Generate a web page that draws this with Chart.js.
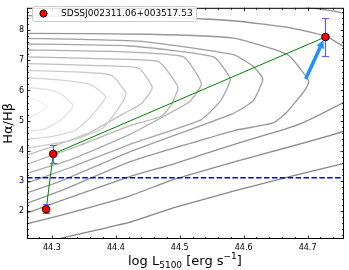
<!DOCTYPE html>
<html>
<head>
<meta charset="utf-8">
<script src="https://cdn.jsdelivr.net/npm/chart.js@4.4.0/dist/chart.umd.min.js"></script>
<style>
  html, body { margin: 0; padding: 0; background: #fff; }
</style>
</head>
<body>
<canvas id="chart" width="349" height="270"></canvas>
<script>
// object measurements (three epochs)
const logL = [44.291, 44.302, 44.728];
const balmerDec = [2.05, 3.89, 7.78];
const errLow = [1.91, 3.59, 7.16];
const errHigh = [2.22, 4.18, 8.40];
const objName = "SDSSJ002311.06+003517.53";
const caseB = 3.1;
const arrowFrom = [44.697, 6.38];
const arrowTo = [44.725, 7.68];

const xTicks = [44.3, 44.4, 44.5, 44.6, 44.7];
const yTicks = [2, 3, 4, 5, 6, 7, 8];
const xRange = [44.261, 44.757];
const yRange = [1.06, 8.75];

// density contours of the comparison sample, innermost first
const contour1 = [[44.250, 5.79], [44.274, 5.70], [44.292, 5.47], [44.278, 5.24], [44.250, 4.95]];
const contour2 = [[44.250, 6.12], [44.297, 6.02], [44.316, 5.86], [44.333, 5.50], [44.316, 5.05], [44.289, 4.72], [44.250, 4.63]];
const contour3 = [[44.250, 6.44], [44.312, 6.35], [44.362, 6.18], [44.384, 5.79], [44.362, 5.15], [44.336, 4.66], [44.297, 4.46], [44.250, 4.37]];
const contour4 = [[44.250, 6.67], [44.343, 6.61], [44.393, 6.51], [44.416, 5.89], [44.402, 5.34], [44.378, 4.72], [44.328, 4.33], [44.250, 4.04]];
const contour5 = [[44.250, 6.90], [44.374, 6.83], [44.436, 6.74], [44.457, 6.09], [44.440, 5.57], [44.413, 5.24], [44.359, 4.60], [44.297, 4.11], [44.250, 3.78]];
const contour6 = [[44.250, 7.12], [44.374, 7.06], [44.467, 6.96], [44.497, 6.12], [44.488, 5.57], [44.472, 5.15], [44.421, 4.82], [44.343, 4.17], [44.250, 3.46]];
const contour7 = [[44.250, 7.35], [44.405, 7.29], [44.506, 7.12], [44.534, 6.22], [44.517, 5.66], [44.506, 5.50], [44.421, 4.53], [44.328, 3.69], [44.250, 3.17]];
const contour8 = [[44.250, 7.55], [44.421, 7.48], [44.553, 7.12], [44.579, 6.38], [44.564, 5.66], [44.533, 5.02], [44.421, 4.20], [44.328, 3.43], [44.250, 2.84]];
const contour9 = [[44.250, 7.74], [44.436, 7.64], [44.584, 7.19], [44.615, 6.80], [44.630, 6.38], [44.615, 5.66], [44.584, 5.24], [44.421, 3.95], [44.312, 2.97], [44.250, 2.52]];
const contour10 = [[44.250, 7.90], [44.452, 7.87], [44.584, 7.74], [44.669, 7.19], [44.702, 6.31], [44.695, 5.99], [44.666, 5.24], [44.646, 4.92], [44.584, 4.66], [44.421, 3.62], [44.312, 2.65], [44.250, 2.16]];
const contour11 = [[44.250, 8.49], [44.491, 8.42], [44.584, 8.32], [44.669, 8.10], [44.728, 7.81], [44.759, 7.42], [44.809, 6.54], [44.809, 6.22], [44.759, 5.63], [44.692, 4.92], [44.661, 4.69], [44.584, 4.20], [44.491, 3.56], [44.421, 3.13], [44.312, 2.32], [44.250, 1.84]];
const contour12 = [[44.250, 8.97], [44.529, 8.88], [44.692, 8.78], [44.759, 8.55], [44.840, 7.51], [44.840, 5.57], [44.759, 4.66], [44.584, 3.62], [44.491, 3.04], [44.421, 2.49], [44.312, 1.84], [44.250, 1.51]];
const contour13 = [[44.840, 3.95], [44.754, 3.56], [44.666, 3.10], [44.584, 2.65], [44.491, 2.10], [44.421, 1.61], [44.309, 1.06], [44.250, 0.77]];

const contours = [contour1, contour2, contour3, contour4, contour5, contour6, contour7,
                  contour8, contour9, contour10, contour11, contour12, contour13];
const contourGreys = ['#ececec', '#e2e2e2', '#d6d6d6', '#cbcbcb', '#c0c0c0', '#b6b6b6', '#adadad',
                      '#a5a5a5', '#9e9e9e', '#979797', '#919191', '#8c8c8c', '#878787'];

const FONT = "'DejaVu Sans', sans-serif";

const datasets = [
  {
    label: objName,
    data: logL.map((x, i) => ({x: x, y: balmerDec[i]})),
    showLine: false,
    pointRadius: 3.8,
    pointBackgroundColor: '#ff0000',
    pointBorderColor: '#220000',
    pointBorderWidth: 1,
    order: 0,
    clip: false
  },
  {
    label: 'track',
    data: logL.map((x, i) => ({x: x, y: balmerDec[i]})),
    showLine: true,
    borderColor: '#008000',
    borderWidth: 1,
    pointRadius: 0,
    order: 1
  },
  {
    label: 'caseB',
    data: [{x: xRange[0], y: caseB}, {x: xRange[1], y: caseB}],
    showLine: true,
    borderColor: '#0000ff',
    borderWidth: 1.5,
    borderDash: [5.5, 2.4],
    pointRadius: 0,
    order: 2
  }
];
contours.forEach((c, i) => {
  datasets.push({
    label: 'c' + (i + 1),
    data: c.map(p => ({x: p[0], y: p[1]})),
    showLine: true,
    borderColor: contourGreys[i],
    borderWidth: 1.3,
    tension: 0.15,
    pointRadius: 0,
    order: 3 + i
  });
});

function tickMarks(ctx, chart) {
  const a = chart.chartArea;
  const xs = chart.scales.x, ys = chart.scales.y;
  ctx.save();
  ctx.strokeStyle = '#000';
  ctx.lineWidth = 0.8;
  ctx.beginPath();
  const xMinor = [];
  for (let v = Math.ceil(xRange[0] / 0.02) * 0.02; v <= xRange[1]; v += 0.02) xMinor.push(v);
  const yMinor = [];
  for (let v = Math.ceil(yRange[0] / 0.2) * 0.2; v <= yRange[1]; v += 0.2) yMinor.push(v);
  xMinor.forEach(v => {
    const px = Math.round(xs.getPixelForValue(v)) + 0.5;
    ctx.moveTo(px, a.bottom); ctx.lineTo(px, a.bottom - 2);
    ctx.moveTo(px, a.top); ctx.lineTo(px, a.top + 2);
  });
  xTicks.forEach(v => {
    const px = Math.round(xs.getPixelForValue(v)) + 0.5;
    ctx.moveTo(px, a.bottom); ctx.lineTo(px, a.bottom - 3.5);
    ctx.moveTo(px, a.top); ctx.lineTo(px, a.top + 3.5);
  });
  yMinor.forEach(v => {
    const py = Math.round(ys.getPixelForValue(v)) + 0.5;
    ctx.moveTo(a.left, py); ctx.lineTo(a.left + 2, py);
    ctx.moveTo(a.right, py); ctx.lineTo(a.right - 2, py);
  });
  yTicks.forEach(v => {
    const py = Math.round(ys.getPixelForValue(v)) + 0.5;
    ctx.moveTo(a.left, py); ctx.lineTo(a.left + 3.5, py);
    ctx.moveTo(a.right, py); ctx.lineTo(a.right - 3.5, py);
  });
  ctx.stroke();
  ctx.lineWidth = 1;
  ctx.strokeRect(a.left + 0.5, a.top + 0.5, a.right - a.left - 1, a.bottom - a.top - 1);
  ctx.restore();
}

const extras = {
  id: 'extras',
  beforeDatasetDraw(chart, args) {
    if (args.index !== 0) return;
    const ctx = chart.ctx;
    const xs = chart.scales.x, ys = chart.scales.y;
    ctx.save();
    // arrow
    const x0 = xs.getPixelForValue(arrowFrom[0]), y0 = ys.getPixelForValue(arrowFrom[1]);
    const x1 = xs.getPixelForValue(arrowTo[0]), y1 = ys.getPixelForValue(arrowTo[1]);
    const len = Math.hypot(x1 - x0, y1 - y0);
    const ux = (x1 - x0) / len, uy = (y1 - y0) / len;
    const head = 8, hw = 4;
    ctx.strokeStyle = '#1e90ff';
    ctx.fillStyle = '#1e90ff';
    ctx.lineWidth = 3.5;
    ctx.beginPath();
    ctx.moveTo(x0, y0);
    ctx.lineTo(x1 - ux * head, y1 - uy * head);
    ctx.stroke();
    ctx.beginPath();
    ctx.moveTo(x1, y1);
    ctx.lineTo(x1 - ux * head - uy * hw, y1 - uy * head + ux * hw);
    ctx.lineTo(x1 - ux * head + uy * hw, y1 - uy * head - ux * hw);
    ctx.closePath();
    ctx.fill();
    // error bars
    ctx.strokeStyle = '#5c5cff';
    ctx.lineWidth = 1.2;
    ctx.beginPath();
    logL.forEach((x, i) => {
      const px = Math.round(xs.getPixelForValue(x)) + 0.5;
      const lo = Math.round(ys.getPixelForValue(errLow[i])) + 0.5;
      const hi = Math.round(ys.getPixelForValue(errHigh[i])) + 0.5;
      ctx.moveTo(px, lo); ctx.lineTo(px, hi);
      ctx.moveTo(px - 3.5, lo); ctx.lineTo(px + 3.5, lo);
      ctx.moveTo(px - 3.5, hi); ctx.lineTo(px + 3.5, hi);
    });
    ctx.stroke();
    ctx.restore();
  },
  afterDraw(chart) {
    const ctx = chart.ctx;
    tickMarks(ctx, chart);
    // legend
    ctx.save();
    const bx = 32, by = 6, bw = 164, bh = 15;
    ctx.fillStyle = 'rgba(255,255,255,0.85)';
    ctx.strokeStyle = '#cccccc';
    ctx.lineWidth = 1;
    ctx.beginPath();
    ctx.roundRect(bx + 0.5, by + 0.5, bw, bh, 2);
    ctx.fill();
    ctx.stroke();
    ctx.beginPath();
    ctx.arc(43.5, 13.5, 3.6, 0, Math.PI * 2);
    ctx.fillStyle = '#ff0000';
    ctx.fill();
    ctx.strokeStyle = '#220000';
    ctx.stroke();
    ctx.fillStyle = '#000';
    ctx.font = '9px ' + FONT;
    ctx.textBaseline = 'middle';
    ctx.fillText(objName, 61, 14);
    // x axis title with sub/superscript
    let tx = 128;
    const parts = [
      ['log L', 13, 265], ['5100', 9, 268], [' [erg s', 13, 265], ['\u22121', 9, 259], [']', 13, 265]
    ];
    ctx.textBaseline = 'alphabetic';
    parts.forEach(p => {
      ctx.font = p[1] + 'px ' + FONT;
      ctx.fillText(p[0], tx, p[2]);
      tx += ctx.measureText(p[0]).width;
    });
    ctx.restore();
  }
};

new Chart(document.getElementById('chart'), {
  type: 'scatter',
  data: { datasets: datasets },
  options: {
    responsive: false,
    animation: false,
    events: [],
    layout: { padding: { left: 0, right: 2, top: 2, bottom: 0 } },
    plugins: { legend: { display: false }, tooltip: { enabled: false } },
    scales: {
      x: {
        type: 'linear', min: xRange[0], max: xRange[1],
        grid: { display: false, drawTicks: false },
        border: { display: false },
        afterBuildTicks: s => { s.ticks = xTicks.map(v => ({value: v})); },
        afterFit: s => { s.height = 31; },
        ticks: { font: { family: FONT, size: 8 }, color: '#000', padding: 4, maxRotation: 0, autoSkip: false,
                 callback: v => v.toFixed(1) }
      },
      y: {
        type: 'linear', min: yRange[0], max: yRange[1],
        grid: { display: false, drawTicks: false },
        border: { display: false },
        afterBuildTicks: s => { s.ticks = yTicks.map(v => ({value: v})); },
        afterFit: s => { s.width = 27; },
        ticks: { font: { family: FONT, size: 8 }, color: '#000', padding: 3, autoSkip: false,
                 callback: v => String(v) },
        title: { display: true, text: 'H\u03b1/H\u03b2', font: { family: FONT, size: 13 }, color: '#000',
                 padding: { top: 1, bottom: 0 } }
      }
    }
  },
  plugins: [extras]
});
</script>
</body>
</html>
